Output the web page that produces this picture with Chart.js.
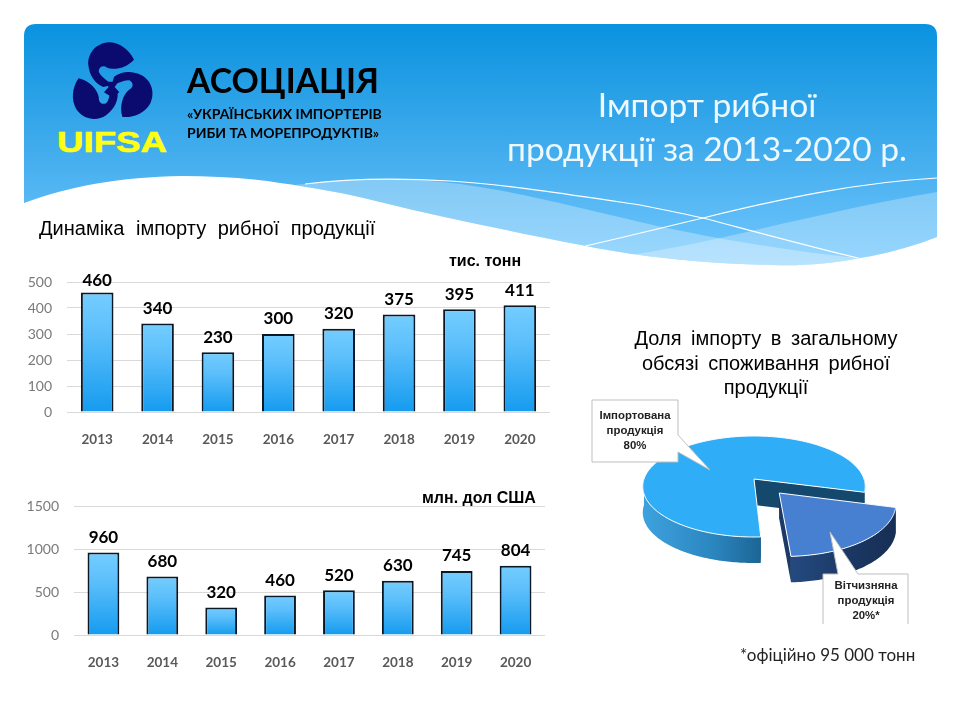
<!DOCTYPE html>
<html lang="uk">
<head>
<meta charset="utf-8">
<title>Імпорт рибної продукції</title>
<script src="https://cdn.jsdelivr.net/npm/chart.js@4"></script>
<style>
  html, body { margin: 0; padding: 0; background: #fff; }
  #slide { position: relative; width: 960px; height: 720px; overflow: hidden; background: #fff; }
  #slide > svg, #slide > canvas, .t { position: absolute; }
  .t { white-space: nowrap; margin: 0; }
  .sans { font-family: "Liberation Sans", Arial, sans-serif; }
  .hum { font-family: Lato, "Open Sans", sans-serif; }
  .c { text-align: center; }
</style>
</head>
<body>
<div id="slide">
  <svg width="960" height="720" style="left:0;top:0">
    <defs>
      <linearGradient id="sky" gradientUnits="userSpaceOnUse" x1="0" y1="24" x2="0" y2="268">
        <stop offset="0" stop-color="#0a92df"/>
        <stop offset="0.55" stop-color="#45aeee"/>
        <stop offset="1" stop-color="#72c8fe"/>
      </linearGradient>
      <clipPath id="bannerClip"><path d="M24 36 Q24 24 36 24 H925 Q937 24 937 36 V237 C 912 247 885 254 860 258 C 830 264 800 266 773 265 C 705 264 640 257 581 245 C 510 231 445 218 380 202 C 345 193 310 187 280 183 C 250 178 215 176 182 176 C 120 177 70 186 24 203 Z"/></clipPath>
      <g id="fish">
        <path fill="#0b0a6e" d="M252 74 C 238 44 208 22 176 22 C 140 24 112 54 115 90 C 118 122 136 146 160 156 L 186 150 C 172 136 148 122 146 108 C 148 94 160 90 172 98 C 192 106 228 100 252 74 Z"/>
      </g>
    </defs>
    <path d="M24 36 Q24 24 36 24 H925 Q937 24 937 36 V237 C 912 247 885 254 860 258 C 830 264 800 266 773 265 C 705 264 640 257 581 245 C 510 231 445 218 380 202 C 345 193 310 187 280 183 C 250 178 215 176 182 176 C 120 177 70 186 24 203 Z" fill="url(#sky)"/>
    <g clip-path="url(#bannerClip)">
      <path d="M285 186 C 340 180 390 178 430 181 C 490 185 560 203 640 222 C 690 234 780 250 865 259 L 865 300 L 280 300 Z" fill="#fff" fill-opacity="0.3"/>
      <path d="M937 192 C 860 205 800 220 720 238 C 680 247 650 252 610 258 L 610 300 L 937 300 Z" fill="#fff" fill-opacity="0.28"/>
      <path d="M305 184 C 345 179 400 178 450 181 C 510 185 580 196 640 205 C 665 210 685 214 703 218 C 760 233 815 248 862 259" fill="none" stroke="#fff" stroke-width="1.2"/>
      <path d="M585 246 C 625 237 665 227 703 218 C 780 199 860 182 937 178" fill="none" stroke="#fff" stroke-width="1.2"/>
    </g>
    <!-- association emblem: three curled fish around a small knot -->
    <g transform="translate(50 35) scale(0.3333)">
      <use href="#fish"/>
      <use href="#fish" transform="rotate(120 185 150)"/>
      <use href="#fish" transform="rotate(240 185 150)"/>
      <path fill="#0b0a6e" d="M165 140 L 205 140 L 194 156 L 208 172 L 185 186 L 162 172 L 176 156 Z"/>
    </g>
    <text x="57" y="152" class="sans" font-weight="700" font-size="30" fill="#ffff14" stroke="#ffff14" stroke-width="0.6" textLength="110" lengthAdjust="spacingAndGlyphs">UIFSA</text>
  </svg>

  <canvas id="tonnes" width="530" height="180" style="left:20px;top:265px"></canvas>
  <canvas id="usd" width="525" height="180" style="left:20px;top:490px"></canvas>
  <canvas id="share" width="380" height="380" style="left:564px;top:289px"></canvas>

  <svg width="960" height="720" style="left:0;top:0;pointer-events:none">
    <path d="M592 400 H678 V435 L710 470 L678 452 V462 H592 Z" fill="#fff" stroke="#bfbfbf" stroke-width="1"/>
    <path d="M823 624 V574 H838 L830 532 L858 574 H908 V624" fill="#fff" stroke="#bfbfbf" stroke-width="1"/>
  </svg>

  <p class="t hum" style="left:187px;top:59px;font-size:33.8px;font-weight:700;line-height:42px;color:#000">АСОЦІАЦІЯ</p>
  <p class="t hum" style="left:187px;top:104px;font-size:14px;font-weight:700;line-height:19px;color:#000">«УКРАЇНСЬКИХ ІМПОРТЕРІВ<br>РИБИ ТА МОРЕПРОДУКТІВ»</p>
  <p class="t hum c" style="left:440px;width:534px;top:82px;font-size:33.6px;line-height:44px;color:#eef8ff">Імпорт рибної<br>продукції за 2013-2020 р.</p>
  <p class="t sans" style="left:39px;top:216px;font-size:20px;line-height:24px;word-spacing:6px;color:#000">Динаміка імпорту рибної продукції</p>
  <p class="t sans" style="left:449px;top:253px;font-size:16px;font-weight:700;line-height:16px;color:#000">тис. тонн</p>
  <p class="t sans" style="left:422px;top:490px;font-size:16px;font-weight:700;line-height:16px;color:#000">млн. дол США</p>
  <p class="t sans c" style="left:566px;width:400px;top:326px;font-size:20px;line-height:24.5px;word-spacing:4px;color:#000">Доля імпорту в загальному<br>обсязі споживання рибної<br>продукції</p>
  <p id="labelImport" class="t sans c" style="left:592px;width:86px;top:408px;font-size:11.4px;font-weight:700;line-height:15px;color:#222"></p>
  <p id="labelLocal" class="t sans c" style="left:823px;width:86px;top:578px;font-size:11.4px;font-weight:700;line-height:15px;color:#222"></p>
  <p class="t hum" style="left:740px;top:645px;font-size:17px;line-height:20px;color:#222">*офіційно 95 000 тонн</p>
</div>

<script>
// Chart values
const years = ["2013", "2014", "2015", "2016", "2017", "2018", "2019", "2020"];
const importTonnes = [460, 340, 230, 300, 320, 375, 395, 411];
const importUsd = [960, 680, 320, 460, 520, 630, 745, 804];
const shareLabels = ["Імпортована продукція", "Вітчизняна продукція"];
const shareValues = [80, 20];
const shareNotes = ["", "*"];

document.getElementById("labelImport").innerHTML = shareLabels[0].replace(" ", "<br>") + "<br>" + shareValues[0] + "%" + shareNotes[0];
document.getElementById("labelLocal").innerHTML = shareLabels[1].replace(" ", "<br>") + "<br>" + shareValues[1] + "%" + shareNotes[1];

// Prints each bar's value above it, held just inside the top of the canvas region
const valueLabels = {
  id: "valueLabels",
  afterDatasetsDraw(chart) {
    const { ctx, chartArea } = chart;
    const meta = chart.getDatasetMeta(0);
    const values = chart.data.datasets[0].data;
    ctx.save();
    ctx.font = "700 17px Lato, 'Open Sans', sans-serif";
    ctx.fillStyle = "#000";
    ctx.textAlign = "center";
    ctx.textBaseline = "middle";
    meta.data.forEach((bar, i) => {
      const y = Math.max(bar.y - 15, chartArea.top - 1.5);
      ctx.fillText(String(values[i]), bar.x, y);
    });
    ctx.restore();
  }
};

// Vertical gradient spanning each bar's own height
function barFill(context) {
  const { chart, parsed } = context;
  const scale = chart.scales && chart.scales.y;
  if (!parsed || !scale || !chart.chartArea) return "#3fb0f5";
  const g = chart.ctx.createLinearGradient(0, scale.getPixelForValue(parsed.y), 0, scale.getPixelForValue(0));
  g.addColorStop(0, "#74cdff");
  g.addColorStop(0.35, "#5cbffb");
  g.addColorStop(1, "#159bef");
  return g;
}

function barChart(id, values, yMax, yStep, axisWidth, topPad, xHeight) {
  return new Chart(document.getElementById(id), {
    type: "bar",
    data: {
      labels: years,
      datasets: [{
        data: values,
        backgroundColor: barFill,
        borderColor: "#0a1826",
        borderWidth: 2,
        barPercentage: 0.54,
        categoryPercentage: 1
      }]
    },
    options: {
      responsive: false,
      animation: false,
      layout: { padding: { top: topPad, left: 0, right: 0, bottom: 0 } },
      plugins: { legend: { display: false }, tooltip: { enabled: false } },
      scales: {
        x: {
          afterFit(scale) { scale.height = xHeight; },
          grid: { display: false },
          border: { display: false },
          ticks: { color: "#595959", padding: 12, maxRotation: 0, font: { family: "Lato, 'Open Sans', sans-serif", size: 13.5, weight: "700" } }
        },
        y: {
          min: 0,
          max: yMax,
          afterFit(scale) {
            // Fixed gutter; the outer tick labels may overhang the plot
            scale.width = axisWidth;
            scale.paddingTop = 0;
            scale.paddingBottom = 0;
          },
          grid: { color: "#d9d9d9", lineWidth: 1, drawTicks: false },
          border: { display: false },
          ticks: { stepSize: yStep, color: "#7a7a7a", padding: 15, callback: v => String(v), font: { family: "Lato, 'Open Sans', sans-serif", size: 14 } }
        }
      }
    },
    plugins: [valueLabels]
  });
}

barChart("tonnes", importTonnes, 500, 100, 47, 17, 33);
barChart("usd", importUsd, 1500, 500, 54, 16, 35);

// Tilted, extruded pie: the arcs keep their angles, radius and offset from the
// library, and are projected onto a receding plane before being painted.
const TILT = 0.449;
const RECEDE = 0.1486;
const DEPTH = 26;
const TAU = Math.PI * 2;

function tiltedPoint(el, u, v) {
  const s = 1 / (1 - RECEDE * v);
  return [el.x + el.outerRadius * u * s, el.y + el.outerRadius * TILT * v * s];
}

function traceRim(ctx, el, shift, from, to, dy, first) {
  const steps = Math.max(2, Math.ceil(Math.abs(to - from) / (Math.PI / 180)));
  for (let i = 0; i <= steps; i++) {
    const a = from + (to - from) * i / steps;
    const [x, y] = tiltedPoint(el, shift[0] + Math.cos(a), shift[1] + Math.sin(a));
    if (first && i === 0) ctx.moveTo(x, y + dy); else ctx.lineTo(x, y + dy);
  }
}

function paintCut(ctx, el, shift, angle, color) {
  const [ax, ay] = tiltedPoint(el, shift[0], shift[1]);
  const [bx, by] = tiltedPoint(el, shift[0] + Math.cos(angle), shift[1] + Math.sin(angle));
  ctx.beginPath();
  ctx.moveTo(ax, ay);
  ctx.lineTo(bx, by);
  ctx.lineTo(bx, by + DEPTH);
  ctx.lineTo(ax, ay + DEPTH);
  ctx.closePath();
  ctx.fillStyle = color;
  ctx.fill();
}

function paintWall(ctx, el, shift, a0, a1, colors) {
  if (a1 <= a0) return;
  const xs = [];
  for (let a = a0; a <= a1; a += 0.02) xs.push(tiltedPoint(el, shift[0] + Math.cos(a), shift[1] + Math.sin(a))[0]);
  const g = ctx.createLinearGradient(Math.min(...xs), 0, Math.max(...xs), 0);
  g.addColorStop(0, colors[0]);
  g.addColorStop(0.6, colors[1]);
  g.addColorStop(1, colors[2]);
  ctx.beginPath();
  traceRim(ctx, el, shift, a0, a1, 0, true);
  traceRim(ctx, el, shift, a1, a0, DEPTH, false);
  ctx.closePath();
  ctx.fillStyle = g;
  ctx.fill();
}

const sliceSkins = [
  { cut: "#14486c", side: ["#3da2de", "#2b86bf", "#1c6595"] },
  { cut: "#1b3a66", side: ["#24497e", "#1a3662", "#162f55"] }
];

const tiltedPie = {
  id: "tiltedPie",
  beforeDatasetDraw(chart, args) {
    const { ctx } = chart;
    args.meta.data.forEach((el, i) => {
      const skin = sliceSkins[i];
      const push = (el.options.offset || 0) / 4 / el.outerRadius;
      const mid = (el.startAngle + el.endAngle) / 2;
      const shift = [Math.cos(mid) * push, Math.sin(mid) * push];
      let from = el.startAngle, to = el.endAngle;
      if (from >= TAU) { from -= TAU; to -= TAU; }

      paintCut(ctx, el, shift, from, skin.cut);
      paintCut(ctx, el, shift, to, skin.cut);

      // Outer wall on the near half of the rim only
      paintWall(ctx, el, shift, Math.max(from, 0), Math.min(to, Math.PI), skin.side);
      paintWall(ctx, el, shift, Math.max(from, TAU), Math.min(to, TAU + Math.PI), [skin.cut, skin.cut, skin.cut]);

      // Top face
      const [ax, ay] = tiltedPoint(el, shift[0], shift[1]);
      ctx.beginPath();
      ctx.moveTo(ax, ay);
      traceRim(ctx, el, shift, from, to, 0, false);
      ctx.closePath();
      ctx.fillStyle = el.options.backgroundColor;
      ctx.fill();
      ctx.lineWidth = 1;
      ctx.strokeStyle = el.options.borderColor;
      ctx.stroke();
    });
    return false;
  }
};

new Chart(document.getElementById("share"), {
  type: "pie",
  data: {
    labels: shareLabels,
    datasets: [{
      data: shareValues,
      backgroundColor: ["#2fadf6", "#477fd1"],
      borderColor: "#ffffff",
      borderWidth: 1,
      offset: [0, 154]
    }]
  },
  options: {
    responsive: false,
    animation: false,
    radius: 110,
    rotation: 177,
    layout: { padding: 0 },
    plugins: { legend: { display: false }, tooltip: { enabled: false } }
  },
  plugins: [tiltedPie]
});
</script>
</body>
</html>
